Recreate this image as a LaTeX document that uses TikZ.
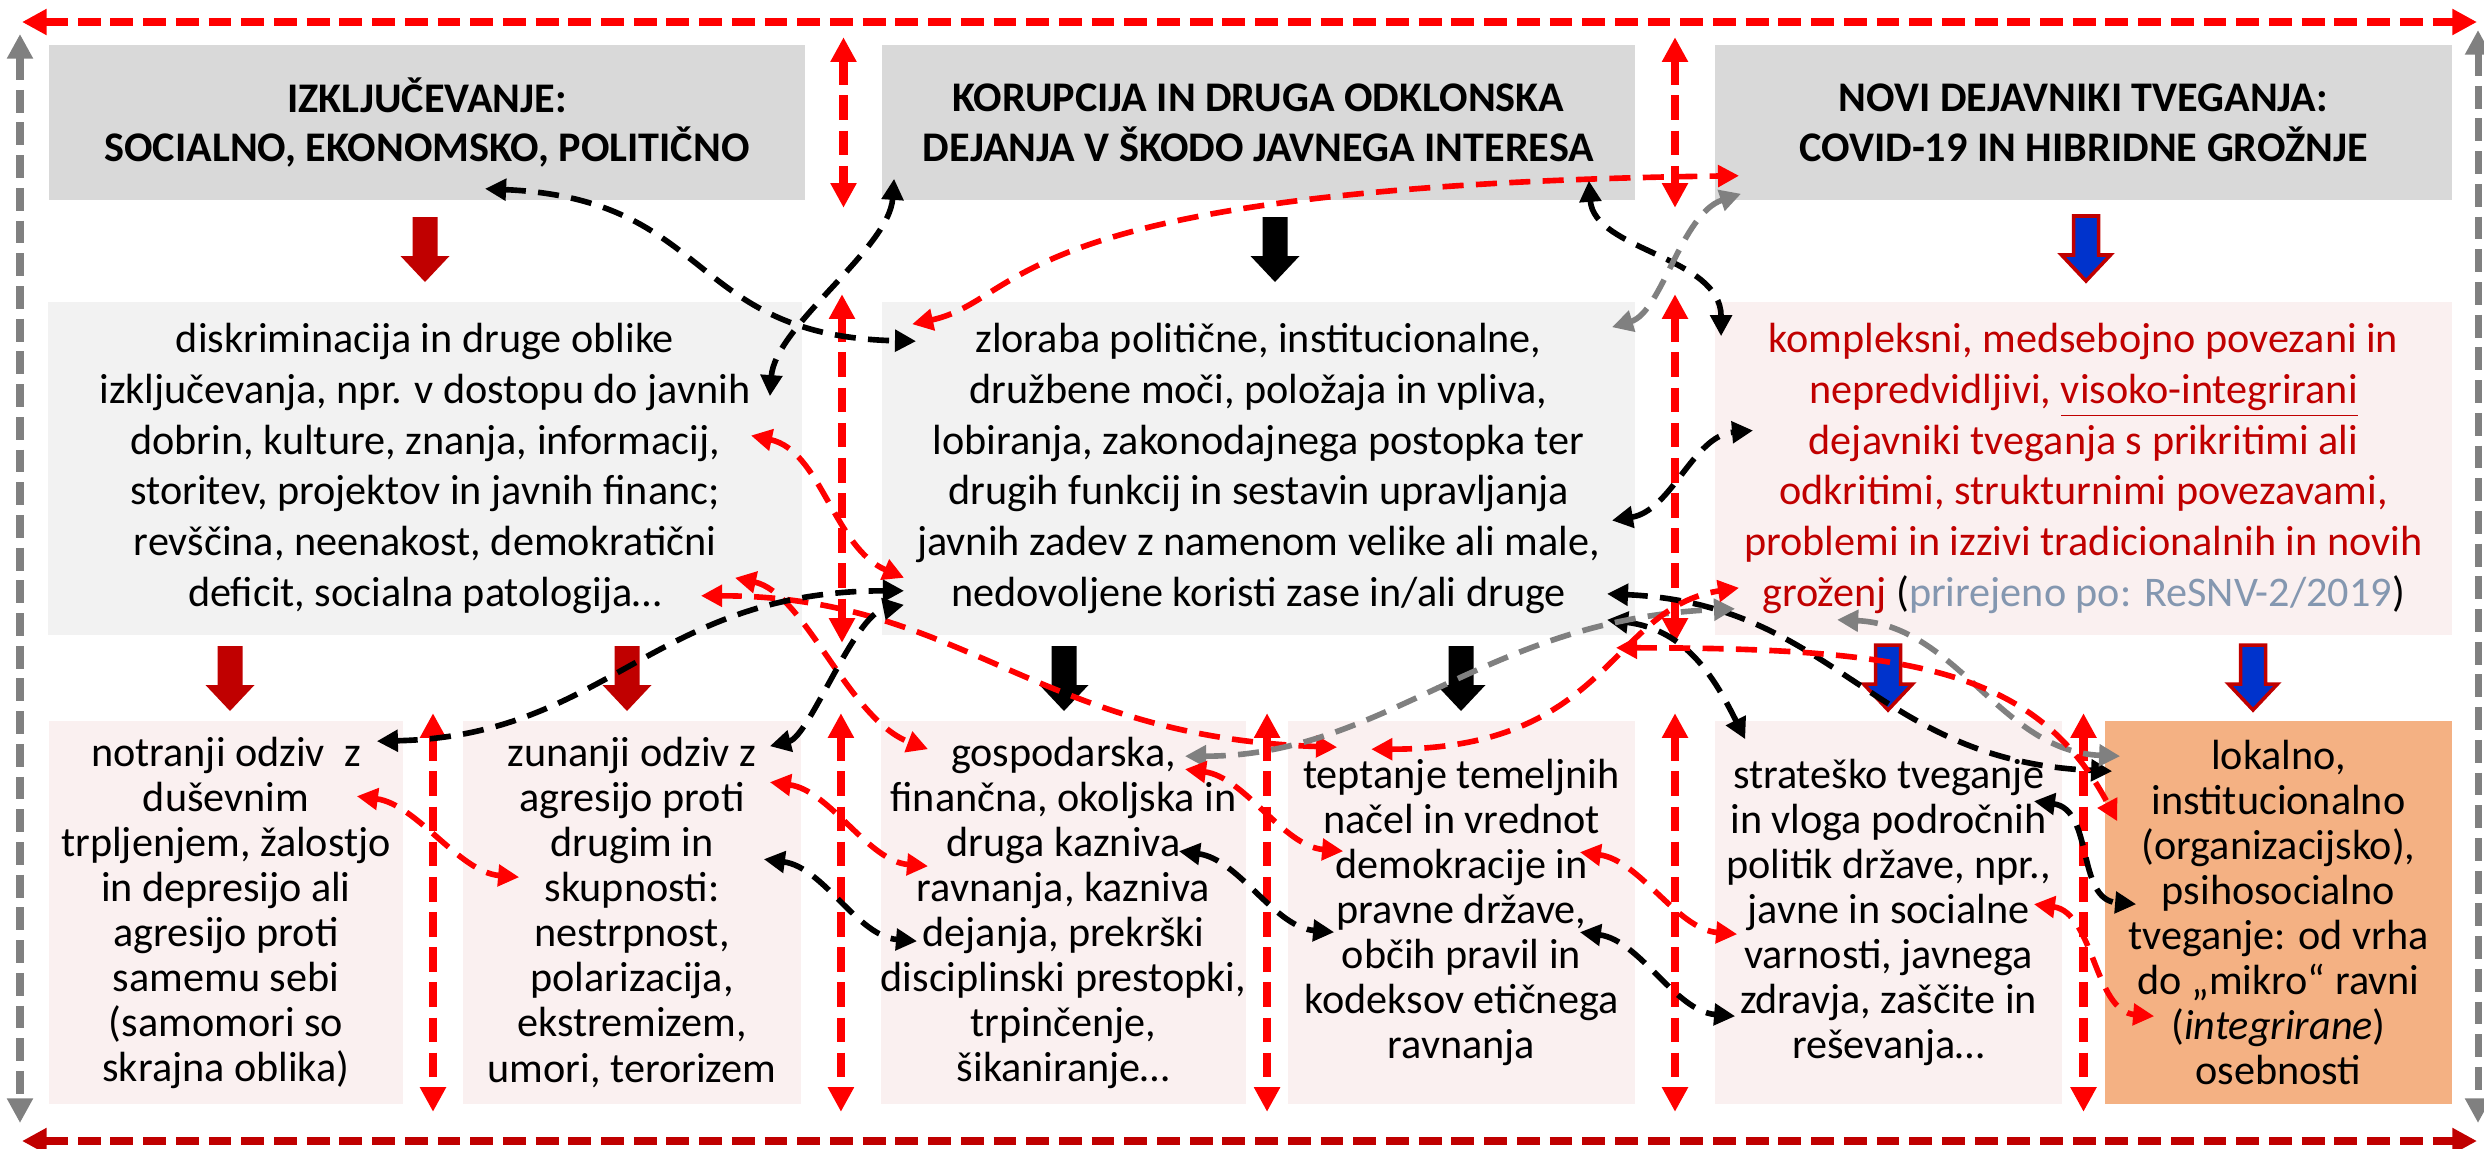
\documentclass[tikz,border=0pt]{standalone}
\usepackage{fontspec}
\setmainfont{Carlito}
\usetikzlibrary{arrows.meta,calc}

\definecolor{rojo}{HTML}{FF0000}
\definecolor{granate}{HTML}{C00000}
\definecolor{gris}{HTML}{808080}
\definecolor{griscab}{HTML}{D9D9D9}
\definecolor{grisfondo}{HTML}{F2F2F2}
\definecolor{rosa}{HTML}{FAF0F0}
\definecolor{naranja}{HTML}{F4B183}
\definecolor{azul}{HTML}{0033CC}
\definecolor{azulgris}{HTML}{8497B0}

\tikzset{
  cab/.style={fill=griscab, minimum height=1.55cm, inner sep=0pt, align=center,
    font=\bfseries\fontsize{12}{14.2}\selectfont},
  medio/.style={minimum height=3.33cm, inner sep=0pt, align=center,
    font=\fontsize{12}{14.4}\selectfont},
  bajo/.style={fill=rosa, minimum height=3.83cm, inner sep=0pt, align=center,
    font=\fontsize{12}{12.8}\selectfont},
  flecha/.pic={\path[pic actions] (-12.5,0) -- (12.5,0) -- (12.5,39) -- (24.5,39)
    -- (0,65) -- (-24.5,39) -- (-12.5,39) -- cycle;},
  fgranate/.style={fill=granate},
  fnegra/.style={fill=black},
  fazul/.style={fill=azul, draw=granate, line width=1pt},
  conector/.style={line width=1.6pt, dash pattern=on 6pt off 3.5pt,
    <->, >={Triangle[length=6pt,width=6pt]}},
  negro/.style={conector, draw=black},
  rojoc/.style={conector, draw=rojo},
  grisc/.style={conector, draw=gris},
  sep/.style={draw=rojo, line width=2.4pt, dash pattern=on 7pt off 3pt,
    <->, >={Triangle[length=7pt,width=7pt]}, shorten <=-2pt, shorten >=-2pt},
  marco/.style={line width=2pt, dash pattern=on 6.5pt off 2.8pt,
    <->, >={Triangle[length=7pt,width=7pt]}}
}

\begin{document}
\begin{tikzpicture}[x=0.01cm, y=-0.01cm]
      \useasboundingbox (0,0) rectangle (2484,1148);

      % Cabeceras
      \node[cab, minimum width=7.56cm] (h1) at (427,122.5) {IZKLJUČEVANJE:\\SOCIALNO, EKONOMSKO, POLITIČNO};
      \node[cab, minimum width=7.53cm] (h2) at (1258.5,122.5) {KORUPCIJA IN DRUGA ODKLONSKA\\DEJANJA V ŠKODO JAVNEGA INTERESA};
      \node[cab, minimum width=7.37cm] (h3) at (2083.5,122.5) {NOVI DEJAVNIKI TVEGANJA:\\COVID-19 IN HIBRIDNE GROŽNJE};

      % Cajas intermedias
      \node[medio, fill=grisfondo, minimum width=7.54cm] (m1) at (425,468.5) {diskriminacija in druge oblike\\izključevanja, npr. v dostopu do javnih\\dobrin, kulture, znanja, informacij,\\storitev, projektov in javnih financ;\\revščina, neenakost, demokratični\\deficit, socialna patologija…};
      \node[medio, fill=grisfondo, minimum width=7.53cm] (m2) at (1258.5,468.5) {zloraba politične, institucionalne,\\družbene moči, položaja in vpliva,\\lobiranja, zakonodajnega postopka ter\\drugih funkcij in sestavin upravljanja\\javnih zadev z namenom velike ali male,\\nedovoljene koristi zase in/ali druge};
      \node[medio, fill=rosa, text=granate, minimum width=7.37cm] (m3) at (2083.5,468.5) {kompleksni, medsebojno povezani in\\nepredvidljivi, \underline{visoko-integrirani}\\dejavniki tveganja s prikritimi ali\\odkritimi, strukturnimi povezavami,\\problemi in izzivi tradicionalnih in novih\\groženj {\color{black}(}{\color{azulgris}prirejeno po: ReSNV-2/2019}{\color{black})}};

      % Cajas inferiores
      \node[bajo, minimum width=3.54cm] (b1) at (226,912.5) {notranji odziv\ \ z\\duševnim\\trpljenjem, žalostjo\\in depresijo ali\\agresijo proti\\samemu sebi\\(samomori so\\skrajna oblika)};
      \node[bajo, minimum width=3.38cm] (b2) at (632,912.5) {zunanji odziv z\\agresijo proti\\drugim in\\skupnosti:\\nestrpnost,\\polarizacija,\\ekstremizem,\\umori, terorizem};
      \node[bajo, minimum width=3.63cm] (b3) at (1063.5,912.5) {gospodarska,\\finančna, okoljska in\\druga kazniva\\ravnanja, kazniva\\dejanja, prekrški\\disciplinski prestopki,\\trpinčenje,\\šikaniranje…};
      \node[bajo, minimum width=3.47cm] (b4) at (1461.5,912.5) {teptanje temeljnih\\načel in vrednot\\demokracije in\\pravne države,\\občih pravil in\\kodeksov etičnega\\ravnanja};
      \node[bajo, minimum width=3.47cm] (b5) at (1888.5,912.5) {strateško tveganje\\in vloga področnih\\politik države, npr.,\\javne in socialne\\varnosti, javnega\\zdravja, zaščite in\\reševanja…};
      \node[bajo, fill=naranja, minimum width=3.47cm] (b6) at (2278.5,912.5) {lokalno,\\institucionalno\\(organizacijsko),\\psihosocialno\\tveganje: od vrha\\do „mikro“ ravni\\(\textit{integrirane})\\osebnosti};

      % Flechas gruesas
      \foreach \x/\y/\f in {425/217/fgranate, 230/646/fgranate, 627/646/fgranate,
        1275/217/fnegra, 1064/646/fnegra, 1461/646/fnegra,
        2086/216/fazul, 1888/645/fazul, 2253/645/fazul}
        \pic[\f] at (\x,\y) {flecha};

      % Separadores rojos
      \foreach \a/\b in {h1/h2, h2/h3, m1/m2, m2/m3, b1/b2, b2/b3, b3/b4, b4/b5, b5/b6}
        \draw[sep] ($(\a.north east)!.5!(\b.north west)$) -- ($(\a.south east)!.5!(\b.south west)$);

      % Conectores superiores
      \draw[negro] ([shift={(58,-12)}]h1.south) .. controls +(230,10) and +(-230,-5) .. ([shift={(35,40)}]m2.north west);
      \draw[negro] ([shift={(13,-22)}]h2.south west) .. controls +(-5,70) and +(5,-70) .. ([shift={(-33,95)}]m1.north east);
      \draw[rojoc] ([shift={(31,23)}]m2.north west) .. controls +(115,-25) and +(-740,10) .. ([shift={(25,-25)}]h3.south west);
      \draw[negro] ([shift={(-47,-20)}]h2.south east) .. controls +(5,70) and +(0,-80) .. ([shift={(7,35)}]m3.north west);
      \draw[grisc] ([shift={(-24,26)}]m2.north east) .. controls +(50,-15) and +(-60,20) .. ([shift={(27,-7)}]h3.south west);
      \draw[negro] ([shift={(-24,52)}]m2.east) .. controls +(60,-10) and +(-60,5) .. ([shift={(39,-38)}]m3.west);

      % Conectores centrales
      \draw[rojoc] ([shift={(-52,-33)}]m1.east) .. controls +(70,15) and +(-70,-30) .. ([shift={(23,-58)}]m2.south west);
      \draw[rojoc] ([shift={(-102,-40)}]m1.south east) .. controls +(260,0) and +(-300,-10) .. ([shift={(50,27)}]b4.north west);
      \draw[rojoc] ([shift={(-68,-58)}]m1.south east) .. controls +(70,15) and +(-80,-30) .. ([shift={(48,29)}]b3.north west);
      \draw[negro] ([shift={(-27,21)}]b1.north east) .. controls +(230,-5) and +(-250,0) .. ([shift={(23,-45)}]m2.south west);
      \draw[negro] ([shift={(-32,26)}]b2.north east) .. controls +(40,-10) and +(-50,10) .. ([shift={(23,-31)}]m2.south west);
      \draw[negro] ([shift={(-29,-42)}]m2.south east) .. controls +(230,10) and +(-240,-10) .. ([shift={(8,51)}]b6.north west);
      \draw[negro] ([shift={(-29,-16)}]m2.south east) .. controls +(80,10) and +(-30,-60) .. ([shift={(31,19)}]b5.north west);
      \draw[grisc] ([shift={(-62,36)}]b3.north east) .. controls +(200,0) and +(-250,10) .. ([shift={(21,-27)}]m3.south west);
      \draw[grisc] ([shift={(123,-16)}]m3.south west) .. controls +(120,5) and +(-120,-5) .. ([shift={(16,36)}]b6.north west);
      \draw[rojoc] ([shift={(84,29)}]b4.north west) .. controls +(240,0) and +(-130,20) .. ([shift={(25,-48)}]m3.south west);
      \draw[rojoc] ([shift={(-20,12)}]m2.south east) .. controls +(300,0) and +(-80,-150) .. ([shift={(13,101)}]b6.north west);

      % Conectores entre cajas inferiores
      \foreach \c/\a/\p/\b/\q in {rojoc/b1/{-47,76}/b2/{57,157}, rojoc/b2/{-32,62}/b3/{48,146},
        negro/b2/{-38,139}/b3/{37,221}, rojoc/b3/{-62,49}/b4/{56,131},
        negro/b3/{-68,131}/b4/{47,212}, rojoc/b4/{-56,132}/b5/{23,214},
        negro/b4/{-56,212}/b5/{21,296}, negro/b5/{-29,81}/b6/{32,184},
        rojoc/b5/{-29,184}/b6/{50,296}}
        \draw[\c] ([shift={(\p)}]\a.north east) .. controls +(60,8) and +(-60,-5) .. ([shift={(\q)}]\b.north west);

      % Marco
      \coordinate (ai) at (22,22);
      \coordinate (ad) at (2477,22);
      \coordinate (bi) at (22,1141);
      \coordinate (bd) at (2477,1141);
      \coordinate (li) at (20,34);
      \coordinate (lf) at (20,1123);
      \coordinate (ri) at (2478,30);
      \coordinate (rf) at (2478,1123);
      \draw[marco, draw=rojo] (ai) -- (ad);
      \draw[marco, draw=granate] (bi) -- (bd);
      \draw[marco, draw=gris] (li) -- (lf);
      \draw[marco, draw=gris] (ri) -- (rf);
\end{tikzpicture}
\end{document}
